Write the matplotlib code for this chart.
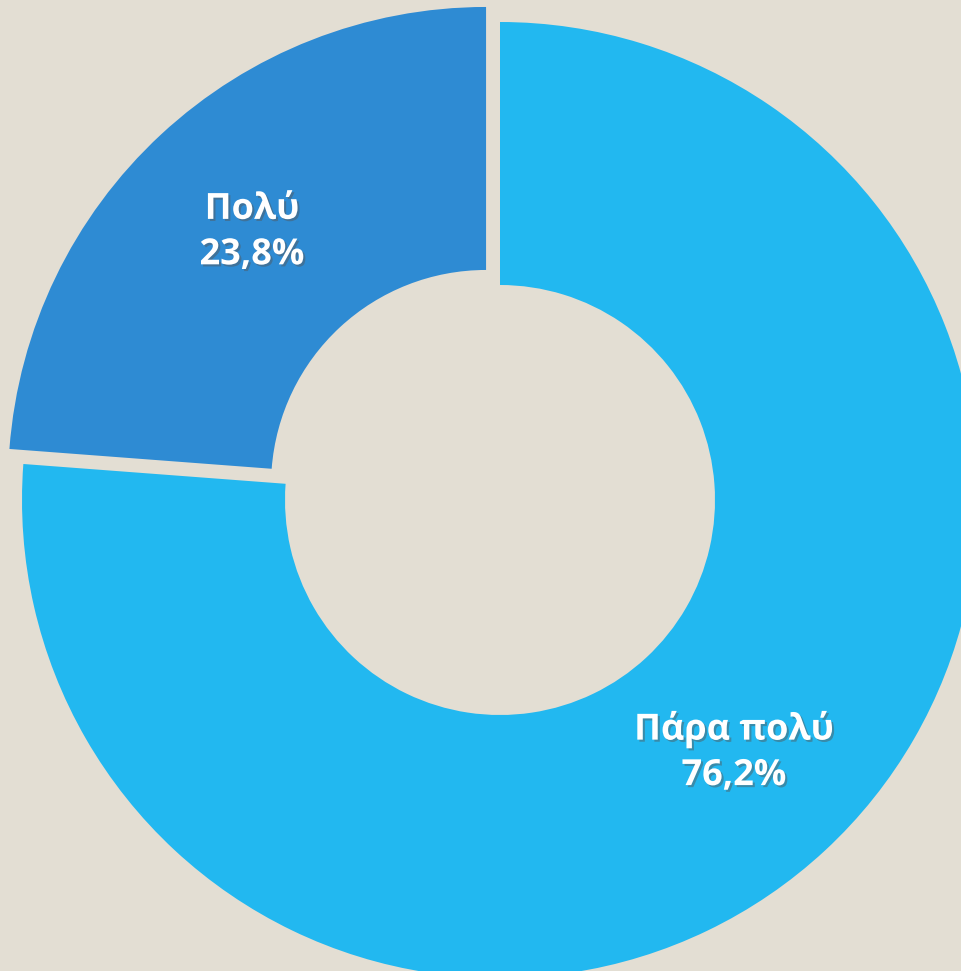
import matplotlib
matplotlib.use('Agg')
import matplotlib.pyplot as plt
import matplotlib.patheffects as pe

# data
labels = ['Πάρα πολύ', 'Πολύ']
values = [76.2, 23.8]
colors = ['#22B8F0', '#2E8BD3']
explode = [0, 20.5]   # pie adds this in data units here

bg = '#E3DED3'

fig = plt.figure(figsize=(9.61, 9.71), dpi=100, facecolor=bg)
ax = fig.add_axes([0, 0, 1, 1])
ax.set_facecolor(bg)

names = iter(labels)
def fmt(p):
    return '{}\n{}%'.format(next(names), ('%.1f' % p).replace('.', ','))

wedges, texts, autotexts = ax.pie(
    values, colors=colors, explode=explode, startangle=90, counterclock=False,
    center=(500, 471), radius=478, autopct=fmt, pctdistance=0.72,
    wedgeprops=dict(width=263, linewidth=0),
    textprops=dict(color='white', fontsize=26, fontweight='bold',
                   family=['Open Sans', 'DejaVu Sans'], linespacing=1.35))

shadow = [pe.SimplePatchShadow(offset=(1.5, -1.5), shadow_rgbFace='#555555', alpha=0.45),
          pe.Normal()]
for t in autotexts:
    t.set_path_effects(shadow)
    t.set_ha('center')
    t.set_multialignment('center')

ax.set_xlim(0, 961)
ax.set_ylim(0, 971)
ax.set_aspect('equal')
ax.axis('off')

fig.savefig('out.png', dpi=100, facecolor=bg)
